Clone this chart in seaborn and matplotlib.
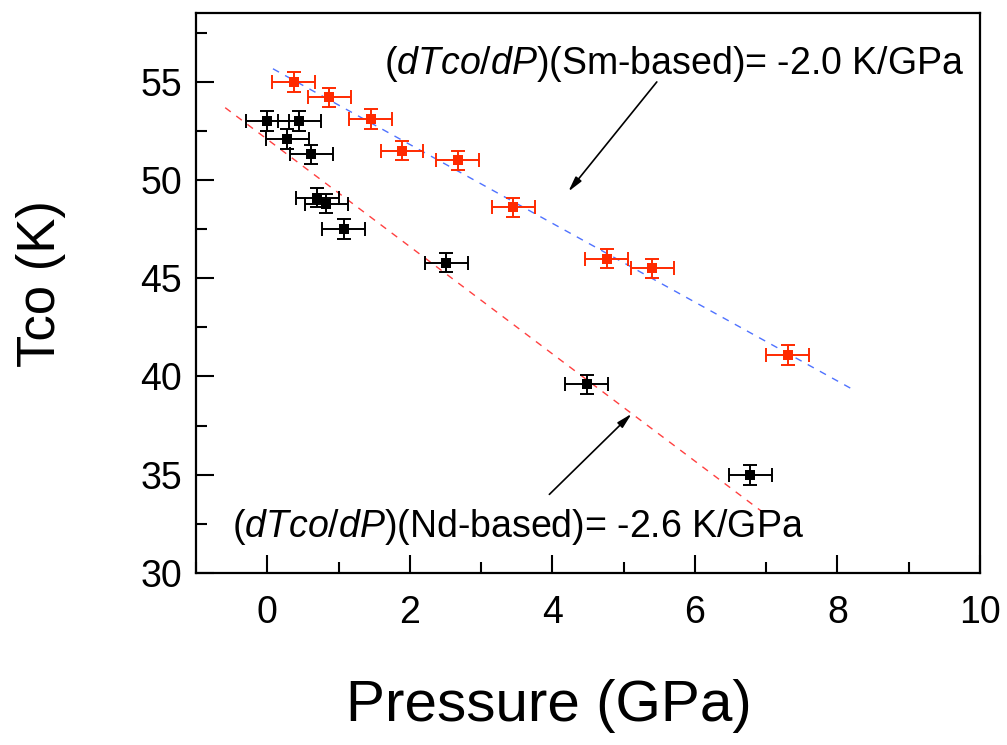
import matplotlib
matplotlib.use("Agg")
import matplotlib.pyplot as plt
import seaborn as sns
import numpy as np
import pandas as pd
from matplotlib.ticker import MultipleLocator

# Sm-based data
sm_p = [0.37, 0.87, 1.45, 1.89, 2.67, 3.45, 4.76, 5.40, 7.30]
sm_t = [55.0, 54.2, 53.1, 51.5, 51.0, 48.6, 46.0, 45.5, 41.1]
sm_perr = [0.3] * 9
sm_terr = [0.5] * 9

# Nd-based data
nd_p = [0.00, 0.45, 0.28, 0.62, 0.70, 0.83, 1.07, 2.51, 4.48, 6.78]
nd_t = [53.0, 53.0, 52.1, 51.3, 49.1, 48.8, 47.5, 45.8, 39.6, 35.0]
nd_perr = [0.3] * 10
nd_terr = [0.5] * 10

# linear fit lines (end points)
sm_fit_p = [0.08, 8.21]
sm_fit_t = [55.66, 39.35]
nd_fit_p = [-0.59, 6.95]
nd_fit_t = [53.68, 33.10]

sns.set_style("ticks")
plt.rcParams['font.family'] = ['Liberation Sans', 'DejaVu Sans']
plt.rcParams['mathtext.fontset'] = 'custom'
plt.rcParams['mathtext.rm'] = 'Liberation Sans'
plt.rcParams['mathtext.it'] = 'Liberation Sans:italic'
plt.rcParams['text.color'] = 'black'
plt.rcParams['axes.labelcolor'] = 'black'
plt.rcParams['xtick.color'] = 'black'
plt.rcParams['ytick.color'] = 'black'

fig = plt.figure(figsize=(10.07, 7.45), dpi=100)
ax = fig.add_axes([0.1946, 0.2309, 0.7786, 0.7517])

red = "#ff2a00"
sns.lineplot(x=sm_fit_p, y=sm_fit_t, ax=ax, color="#4f72ff", lw=1.0,
             linestyle=(0, (5, 5)), zorder=1)
sns.lineplot(x=nd_fit_p, y=nd_fit_t, ax=ax, color="#ff4040", lw=1.0,
             linestyle=(0, (5, 5)), zorder=1)

ax.errorbar(sm_p, sm_t, xerr=sm_perr, yerr=sm_terr, fmt="none", ecolor=red,
            elinewidth=1.4, capsize=5, capthick=1.4, zorder=2)
ax.errorbar(nd_p, nd_t, xerr=nd_perr, yerr=nd_terr, fmt="none", ecolor="black",
            elinewidth=1.4, capsize=5, capthick=1.4, zorder=2)
sns.scatterplot(x=sm_p, y=sm_t, ax=ax, marker="s", s=45, color=red,
                edgecolor=red, linewidth=0, zorder=3)
sns.scatterplot(x=nd_p, y=nd_t, ax=ax, marker="s", s=45, color="black",
                edgecolor="black", linewidth=0, zorder=3)

ax.set_xlim(-1, 10)
ax.set_ylim(30, 58.5)
ax.set_xticks([0, 2, 4, 6, 8, 10])
ax.set_yticks([30, 35, 40, 45, 50, 55])
ax.xaxis.set_minor_locator(MultipleLocator(1))
ax.yaxis.set_minor_locator(MultipleLocator(2.5))
ax.tick_params(which="both", direction="in", top=False, right=False,
               labelsize=27, width=1.5, colors="black")
ax.tick_params(axis="y", which="both", pad=10)
ax.tick_params(axis="x", which="both", pad=16)
ax.tick_params(which="major", length=13)
ax.tick_params(which="minor", length=8)
for sp in ax.spines.values():
    sp.set_linewidth(1.6)
    sp.set_color("black")

ax.set_xlabel("Pressure (GPa)", fontsize=42)
ax.set_ylabel("Tco (K)", fontsize=38)
ax.xaxis.set_label_coords(0.45, -0.19)
ax.yaxis.set_label_coords(-0.166, 0.516)

ax.text(1.64, 55.4, r"$\it{(dTco/dP)}$(Sm-based)= -2.0 K/GPa", fontsize=27,
        ha="left", va="baseline")
ax.text(-0.49, 31.83, r"$\it{(dTco/dP)}$(Nd-based)= -2.6 K/GPa", fontsize=27,
        ha="left", va="baseline")

ax.annotate("", xy=(4.2, 49.3), xytext=(5.49, 55.1),
            arrowprops=dict(arrowstyle="-|>,head_length=0.9,head_width=0.22",
                            color="black", lw=1.2))
ax.annotate("", xy=(5.14, 38.2), xytext=(3.93, 33.9),
            arrowprops=dict(arrowstyle="-|>,head_length=0.9,head_width=0.22",
                            color="black", lw=1.2))

fig.savefig("out.png", dpi=100)
